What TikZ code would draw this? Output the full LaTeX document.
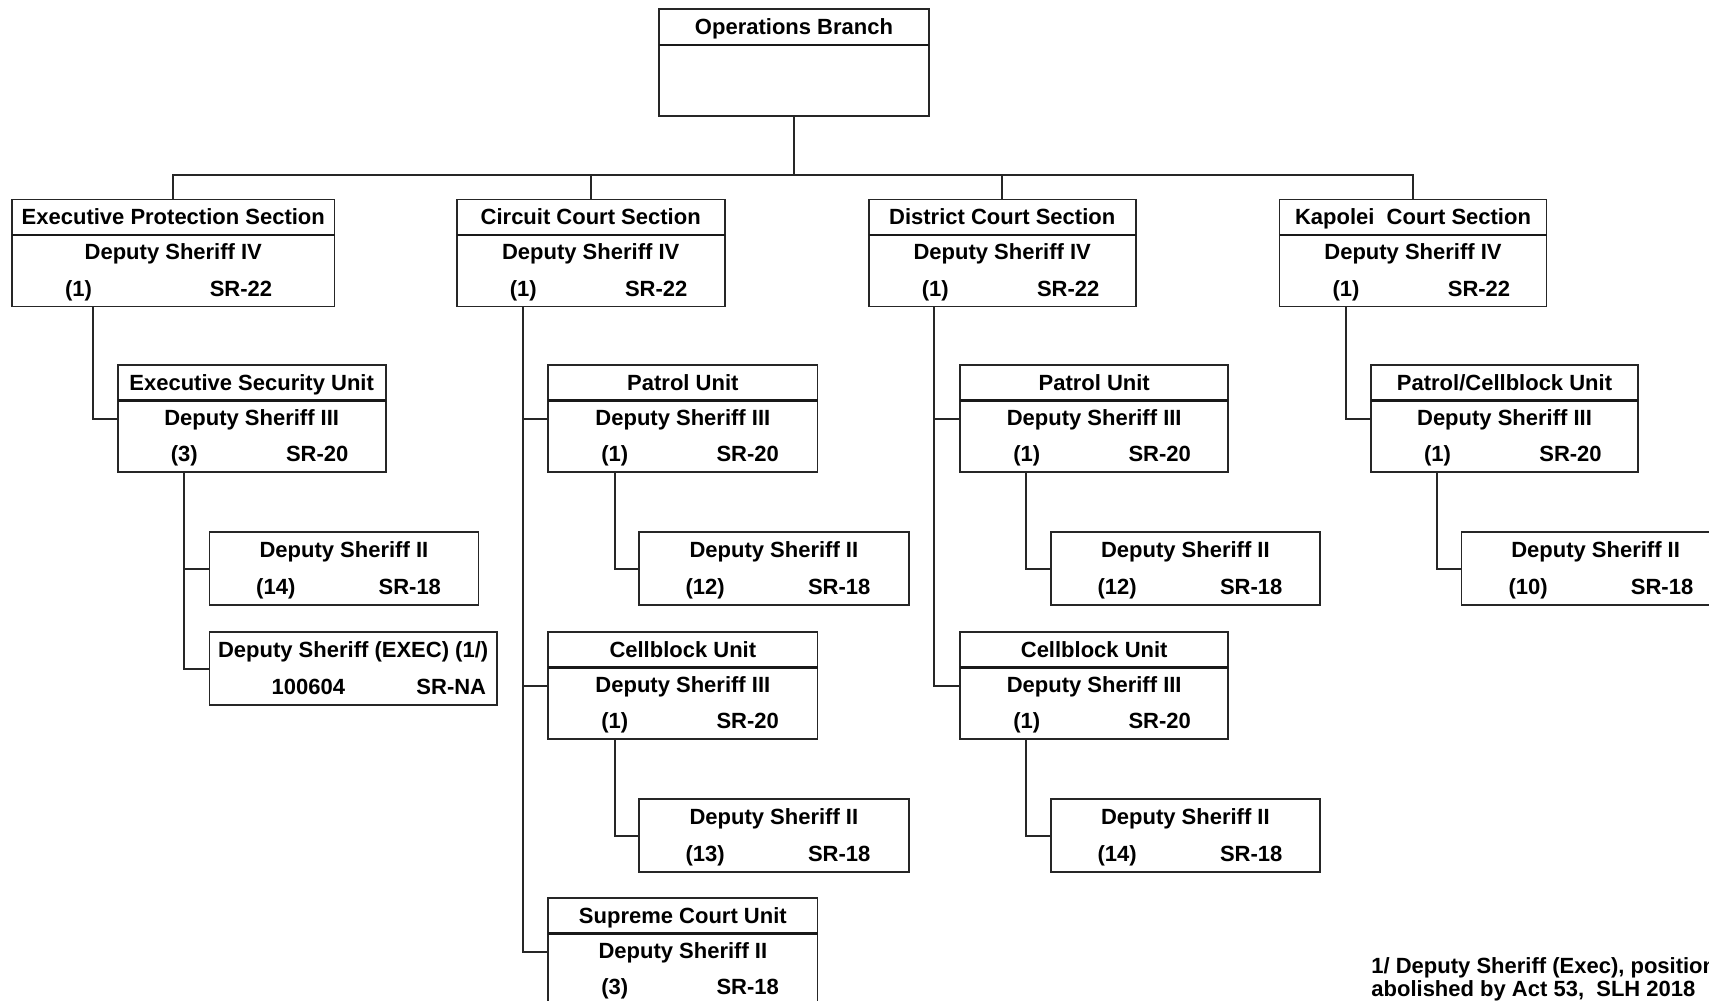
\documentclass[tikz,border=0pt]{standalone}
\usepackage{fontspec}
\setmainfont{Liberation Sans}
\usetikzlibrary{fit,calc}
\tikzset{
  box/.style={draw=black!85, line width=0.8pt, inner sep=0pt, outer sep=0pt},
  divl/.style={line width=1.4pt, black!90},
  conn/.style={line width=1pt, black!85},
  lbl/.style={inner sep=0pt, font=\fontsize{11}{13}\selectfont\bfseries, text height=7.9pt, text depth=0pt, anchor=center},
  fnote/.style={lbl, anchor=west}
}
% three-part box: name, x1, y1, width, header, title, count, grade, grade offset
\newcommand\tribox[9]{%
  \node[box, fit={(#2,#3) (#2+#4,#3+107)}] (#1) {};
  \draw[divl] (#2,#3+35.5) -- (#2+#4,#3+35.5);
  \node[lbl] (#1-h) at (#2+#4/2,#3+17.5) {#5};
  \node[lbl] (#1-t) at (#2+#4/2,#3+52.5) {#6};
  \node[lbl] (#1-c) at (#2+66.5,#3+89) {#7};
  \node[lbl] (#1-g) at (#2+#9,#3+89) {#8};
}
% two-line box: name, x1, y1, width, title, count, grade, count offset, grade offset
\newcommand\dibox[9]{%
  \node[box, fit={(#2,#3) (#2+#4,#3+73)}] (#1) {};
  \node[lbl] (#1-t) at (#2+#4/2,#3+17.5) {#5};
  \node[lbl] (#1-c) at (#2+#8,#3+54.5) {#6};
  \node[lbl] (#1-g) at (#2+#9,#3+54.5) {#7};
}
\begin{document}
\begin{tikzpicture}[x=0.5pt,y=-0.5pt]
\useasboundingbox (0,0) rectangle (1709,1001);
\clip (0,0) rectangle (1709,1001);
\fill[white] (0,0) rectangle (1709,1001);

% top box
\node[box, fit={(659,9) (929,116)}] (ops) {};
\draw[divl] (659,45) -- (929,45);
\node[lbl] (ops-h) at (794,27) {Operations Branch};

% sections
\tribox{exec}{12}{199.5}{322.6}{Executive Protection Section}{Deputy Sheriff IV}{(1)}{SR-22}{229}
\tribox{circ}{456.7}{199.5}{268}{Circuit Court Section}{Deputy Sheriff IV}{(1)}{SR-22}{199.5}
\tribox{dist}{868.7}{199.5}{267}{District Court Section}{Deputy Sheriff IV}{(1)}{SR-22}{199.5}
\tribox{kap}{1279.5}{199.5}{267}{Kapolei~ Court Section}{Deputy Sheriff IV}{(1)}{SR-22}{199.5}

% level 2
\tribox{esu}{117.7}{365}{268}{Executive Security Unit}{Deputy Sheriff III}{(3)}{SR-20}{199.5}
\tribox{cpat}{548.2}{365}{269.3}{Patrol Unit}{Deputy Sheriff III}{(1)}{SR-20}{199.5}
\tribox{dpat}{960.2}{365}{268}{Patrol Unit}{Deputy Sheriff III}{(1)}{SR-20}{199.5}
\tribox{kpat}{1371}{365}{267}{Patrol/Cellblock Unit}{Deputy Sheriff III}{(1)}{SR-20}{199.5}

% level 3
\dibox{eds}{209.3}{532}{269.2}{Deputy Sheriff II}{(14)}{SR-18}{66.5}{200.5}
\dibox{cds}{638.7}{532}{270.3}{Deputy Sheriff II}{(12)}{SR-18}{66.5}{200.5}
\dibox{dds}{1050.7}{532}{269.3}{Deputy Sheriff II}{(12)}{SR-18}{66.5}{200.5}
\dibox{kds}{1461.6}{532}{268}{Deputy Sheriff II}{(10)}{SR-18}{66.5}{200.5}

\dibox{eexec}{209.3}{632}{287.7}{Deputy Sheriff (EXEC) (1/)}{100604}{SR-NA}{99}{242}

\tribox{ccell}{548.2}{632}{269.3}{Cellblock Unit}{Deputy Sheriff III}{(1)}{SR-20}{199.5}
\tribox{dcell}{960.2}{632}{268}{Cellblock Unit}{Deputy Sheriff III}{(1)}{SR-20}{199.5}

\dibox{cdsb}{638.7}{799}{270.3}{Deputy Sheriff II}{(13)}{SR-18}{66.5}{200.5}
\dibox{ddsb}{1050.7}{799}{269.3}{Deputy Sheriff II}{(14)}{SR-18}{66.5}{200.5}

\tribox{sup}{548.2}{898}{269.3}{Supreme Court Unit}{Deputy Sheriff II}{(3)}{SR-18}{199.5}

% connectors
\coordinate (bus) at (794,175);
\draw[conn] (ops.south) -- (bus);
\foreach \s in {exec,circ,dist,kap} \draw[conn] (bus) -| (\s.north);

\draw[conn] ($(exec.south west)+(80.6,0)$) |- (esu.west);
\draw[conn] ($(esu.south west)+(66.5,0)$) |- (eds.west);
\draw[conn] ($(esu.south west)+(66.5,0)$) |- (eexec.west);

\draw[conn] ($(circ.south west)+(66.5,0)$) |- (cpat.west);
\draw[conn] ($(circ.south west)+(66.5,0)$) |- (ccell.west);
\draw[conn] ($(circ.south west)+(66.5,0)$) |- (sup.west);
\draw[conn] ($(cpat.south west)+(66.5,0)$) |- (cds.west);
\draw[conn] ($(ccell.south west)+(66.5,0)$) |- (cdsb.west);

\draw[conn] ($(dist.south west)+(65.3,0)$) |- (dpat.west);
\draw[conn] ($(dist.south west)+(65.3,0)$) |- (dcell.west);
\draw[conn] ($(dpat.south west)+(65.4,0)$) |- (dds.west);
\draw[conn] ($(dcell.south west)+(65.4,0)$) |- (ddsb.west);

\draw[conn] ($(kap.south west)+(66.5,0)$) |- (kpat.west);
\draw[conn] ($(kpat.south west)+(65.5,0)$) |- (kds.west);

% footnote
\node[fnote] (fn1) at (1371,965.7) {1/ Deputy Sheriff (Exec), position};
\node[fnote] (fn2) at (1371,988.6) {abolished by Act 53,~ SLH 2018};
\end{tikzpicture}
\end{document}
